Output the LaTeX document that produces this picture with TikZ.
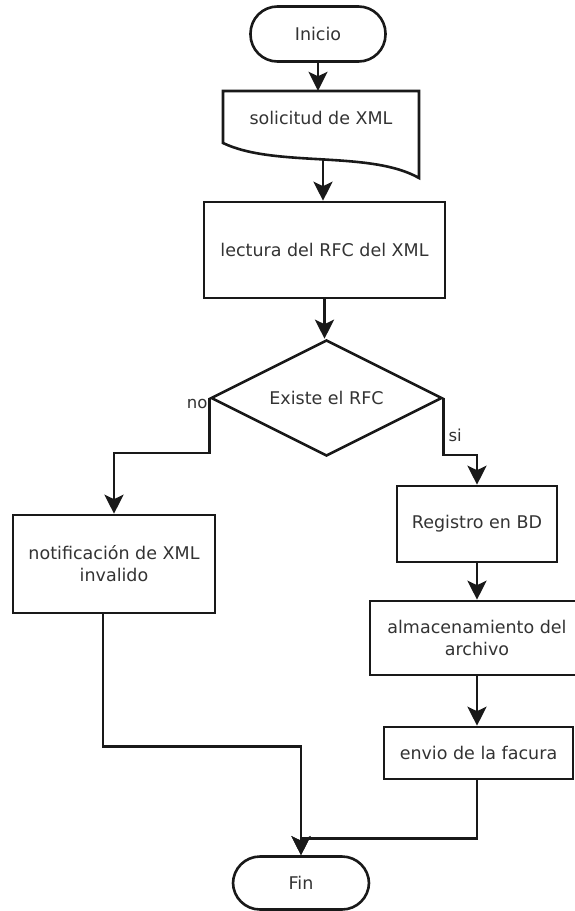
\documentclass[tikz,border=0pt]{standalone}
\usepackage{fontspec}
\setmainfont{DejaVu Sans}
\usetikzlibrary{arrows.meta,shapes.geometric,calc}
\begin{document}
\begin{tikzpicture}[x=1pt,y=-1pt,
  every node/.style={font=\fontsize{17.5}{22}\selectfont, text=black!80, align=center},
  line/.style={line width=2.6pt, draw=black!90},
  arr/.style={line, -{Stealth[length=19pt,width=19pt,inset=4.5pt]}},
  boxnode/.style={line, rectangle, inner sep=0pt},
  termnode/.style={line, rectangle, rounded corners=27pt, inner sep=0pt},
  decnode/.style={line, diamond, aspect=2, inner sep=0pt, minimum width=231pt, minimum height=116pt},
  lbl/.style={font=\fontsize{16.5}{20}\selectfont, inner sep=1pt}
]
\useasboundingbox (0,0) rectangle (575,911);
\fill[white] (0,0) rectangle (575,911);

\node[termnode, minimum width=135pt, minimum height=55pt] (inicio) at (318,34) {Inicio};

% document shape
\draw[line] (223,91) -- (419,91) -- (419,178) .. controls (370,150) and (275,168) .. (223,143) -- cycle;
\node[inner sep=0pt, minimum width=196pt, minimum height=54pt] (doc) at (321,118) {solicitud de XML};
\coordinate (docb) at (323,159);

\node[boxnode, minimum width=241pt, minimum height=96pt] (lect) at (324.5,250) {lectura del RFC del XML};
\node[decnode] (dia) at (326.5,398) {Existe el RFC};
\node[boxnode, minimum width=202pt, minimum height=98pt] (notif) at (114,564) {notificación de XML\\invalido};
\node[boxnode, minimum width=160pt, minimum height=76pt] (reg) at (477,524) {Registro en BD};
\node[boxnode, minimum width=214pt, minimum height=74pt] (alm) at (477,638) {almacenamiento del\\archivo};
\node[boxnode, minimum width=189pt, minimum height=52pt] (env) at (478.5,753) {envio de la facura};
\node[termnode, minimum width=136pt, minimum height=53pt] (fin) at (301,883) {Fin};

\coordinate (nout) at ([xshift=-11pt]notif.south);

\draw[arr] (inicio.south) -- (inicio.south |- doc.north);
\draw[arr] (docb) -- (docb |- lect.north);
\draw[arr] (lect.south) -- (lect.south |- dia.north);
\draw[arr] (dia.west) -- ++(0,55) -| (notif.north);
\draw[arr] (dia.east) -- ++(0,57) -| (reg.north);
\draw[arr] (reg.south) -- (alm.north);
\draw[arr] (alm.south) -- (alm.south |- env.north);
\draw[arr] ([xshift=-1.5pt]env.south) -- ++(0,58) -| (fin.north);
\draw[arr] (nout) -- ++(0,132) -| (fin.north);

\node[lbl, anchor=east] at ([xshift=-1pt,yshift=-6pt]dia.west) {no};
\node[lbl, anchor=west] at ([xshift=4pt,yshift=-37pt]dia.east) {si};
\end{tikzpicture}
\end{document}
